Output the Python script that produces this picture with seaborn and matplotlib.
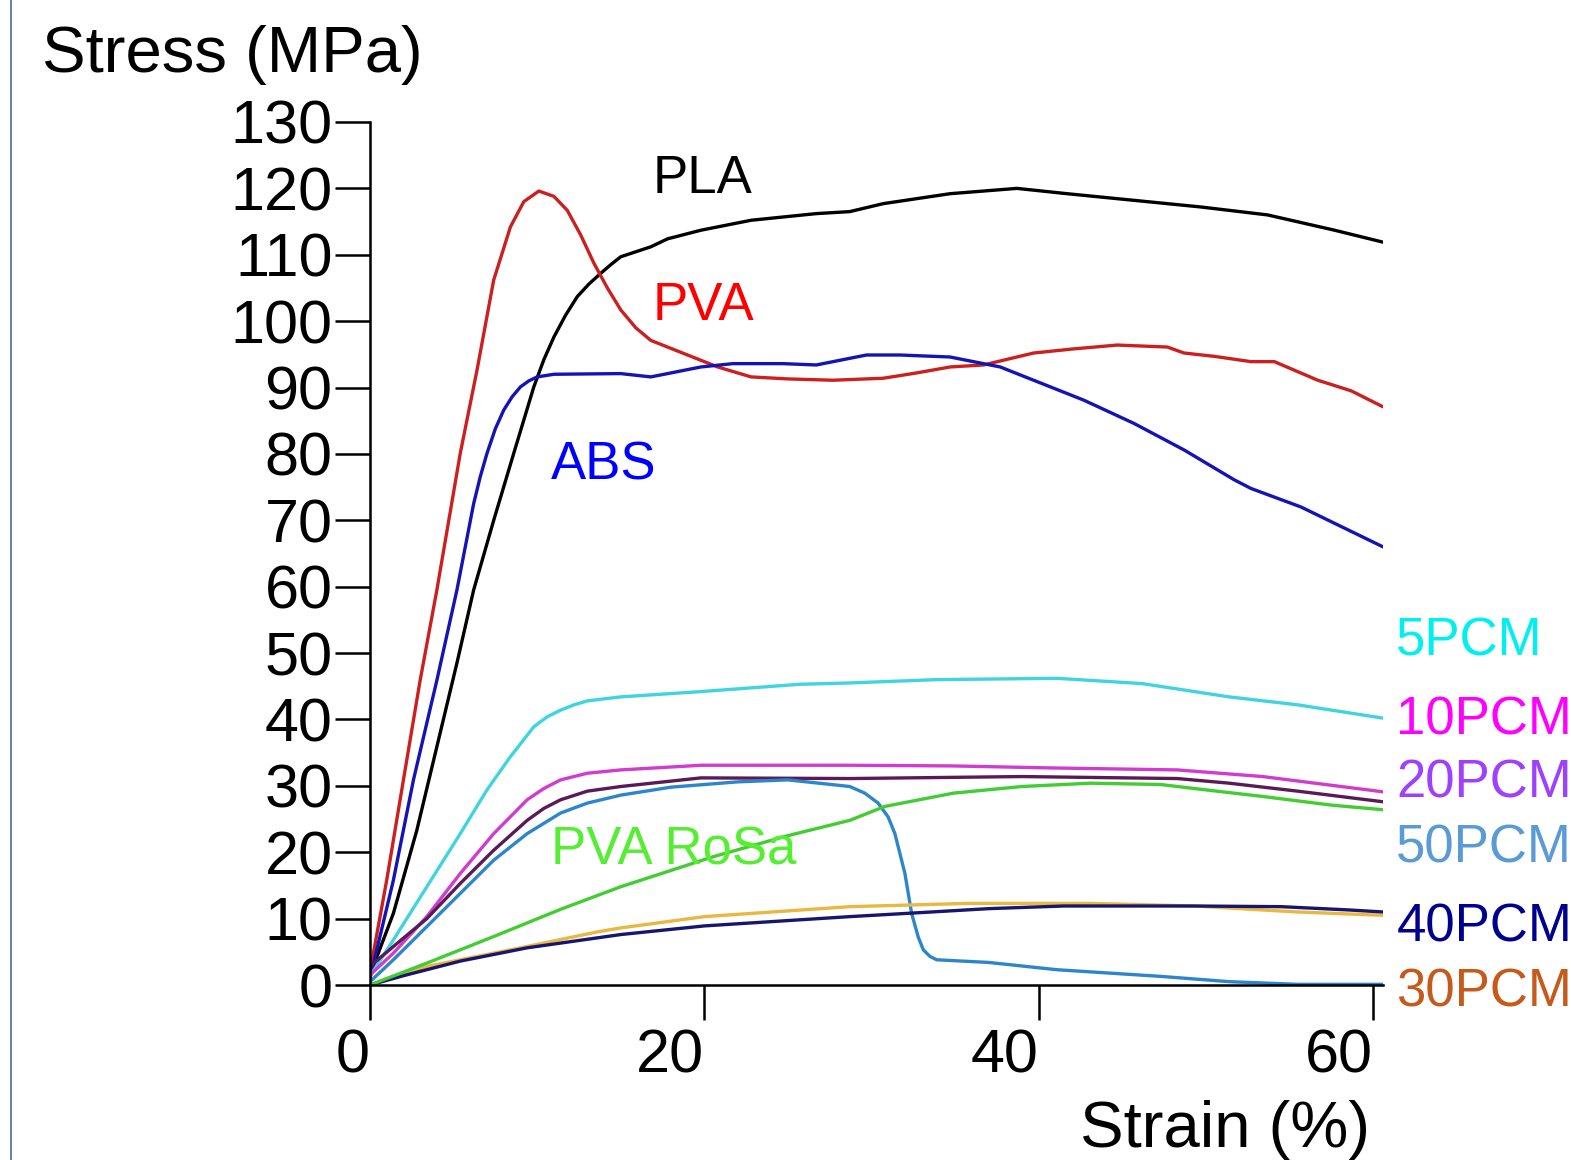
import pandas as pd
import matplotlib.pyplot as plt
import seaborn as sns
from matplotlib.lines import Line2D

sns.set_style('ticks')
plt.rcParams['font.family'] = ['Liberation Sans', 'DejaVu Sans']

# Curves: strain (%) vs stress (MPa)
pla_strain = [0, 1.4, 2.8, 4.0, 5.2, 6.2, 7.4, 8.6, 9.8, 10.4, 11.0, 11.7, 12.4, 13.1, 13.8, 14.4, 15.0,
              16.8, 17.8, 19.8, 22.8, 26.7, 28.7, 30.7, 34.7, 38.7, 41.7, 45.7, 49.7, 53.7, 57.7, 60.6]
pla_stress = [1.5, 10.8, 23.3, 35.9, 48.5, 59.5, 70.0, 80.1, 90.1, 94.2, 97.6, 100.9, 103.7, 105.6, 107.2, 108.5, 109.7,
              111.2, 112.4, 113.7, 115.2, 116.2, 116.5, 117.7, 119.2, 120.0, 119.2, 118.2, 117.2, 116.0, 113.7, 111.9]

pva_strain = [0, 1.0, 2.0, 3.0, 4.0, 5.4, 6.4, 7.4, 8.4, 9.2, 10.1, 11.0, 11.8, 12.6, 13.4, 14.2, 15.0, 15.9, 16.8,
              18.7, 20.8, 22.8, 25.0, 27.7, 30.7, 32.7, 34.7, 36.7, 39.7, 42.0, 44.7, 47.7, 48.7,
              50.5, 52.7, 54.1, 56.7, 58.7, 60.6]
pva_stress = [2.0, 15.8, 30.9, 45.9, 59.5, 80.1, 92.6, 106.2, 114.2, 118.0, 119.6, 118.8, 116.7, 113.0, 108.7, 105.0, 101.7, 99.0, 97.1,
              95.2, 93.1, 91.6, 91.3, 91.1, 91.4, 92.2, 93.1, 93.4, 95.2, 95.8, 96.4, 96.1, 95.2,
              94.7, 93.9, 93.9, 91.1, 89.5, 87.1]

abs_strain = [0, 1.4, 2.6, 4.0, 5.2, 6.2, 6.6, 7.0, 7.5, 8.0, 8.5, 9.0, 9.5, 10.0, 11.0, 15.0, 16.8, 19.8, 21.7,
              24.7, 26.7, 29.7, 31.7, 34.7, 35.7, 37.7, 39.7, 42.7, 45.7, 48.7, 51.7, 52.7, 55.7, 60.6]
abs_stress = [1.0, 15.8, 30.9, 45.9, 59.5, 72.5, 76.6, 80.1, 83.8, 86.6, 88.6, 90.1, 91.0, 91.6, 92.0, 92.1, 91.6, 93.1, 93.6,
              93.6, 93.4, 94.9, 94.9, 94.6, 94.1, 93.1, 91.1, 88.1, 84.6, 80.6, 76.1, 74.8, 72.0, 66.0]

pcm5_strain = [0, 1.4, 3.4, 5.4, 7.0, 8.4, 9.8, 10.6, 11.4, 12.2, 13.0, 15.0, 16.8, 19.8, 25.7, 28.7,
               33.9, 41.1, 46.2, 51.4, 55.5, 60.6]
pcm5_stress = [1.3, 6.8, 14.8, 22.8, 29.4, 34.4, 38.9, 40.4, 41.4, 42.2, 42.8, 43.4, 43.7, 44.2, 45.3, 45.5,
               46.0, 46.2, 45.4, 43.4, 42.2, 40.2]

pcm10_strain = [0, 1.4, 3.4, 5.4, 7.4, 9.4, 10.4, 11.4, 13.0, 15.0, 19.8, 28.7, 34.9, 40.7, 48.3, 53.4, 60.6]
pcm10_stress = [1.5, 4.8, 10.3, 16.8, 22.8, 27.9, 29.6, 30.9, 31.9, 32.4, 33.1, 33.1, 33.0, 32.7, 32.4, 31.4, 29.1]

pcm20_strain = [0, 1.4, 3.4, 5.4, 7.4, 9.4, 10.4, 11.4, 13.0, 15.0, 19.8, 28.7, 39.0, 48.3, 51.4, 55.5, 60.6]
pcm20_stress = [2.8, 5.8, 10.0, 15.3, 20.3, 24.8, 26.6, 27.9, 29.2, 29.9, 31.2, 31.1, 31.4, 31.1, 30.4, 29.2, 27.6]

pcm50_strain = [0, 1.4, 3.4, 5.4, 7.4, 9.4, 11.4, 13.0, 15.0, 18.0, 22.0, 25.0, 28.7, 29.6, 30.4, 31.0, 31.4,
                32.0, 32.4, 32.8, 33.1, 33.5, 33.9, 37.0, 41.1, 47.3, 51.4, 55.5, 60.6]
pcm50_stress = [0.5, 3.8, 8.8, 13.8, 18.8, 22.8, 25.9, 27.4, 28.6, 29.8, 30.6, 30.9, 29.9, 28.9, 27.4, 25.3, 22.8,
                16.8, 10.8, 7.2, 5.3, 4.3, 3.8, 3.4, 2.3, 1.3, 0.5, 0.1, 0.1]

pcm30_strain = [0, 3.4, 9.4, 13.6, 15.0, 20.0, 28.7, 35.9, 43.1, 49.3, 55.5, 60.6]
pcm30_stress = [0, 2.8, 5.8, 8.0, 8.6, 10.3, 11.8, 12.3, 12.3, 11.9, 11.0, 10.5]

pcm40_strain = [0, 2.0, 5.4, 9.4, 15.0, 20.0, 28.7, 32.9, 37.0, 41.5, 49.3, 54.5, 58.6, 60.6]
pcm40_stress = [0, 1.4, 3.6, 5.6, 7.6, 8.9, 10.3, 10.9, 11.5, 11.9, 11.9, 11.8, 11.3, 11.0]

rosa_strain = [0, 3.4, 7.4, 11.4, 15.0, 20.5, 25.0, 28.7, 30.8, 34.9, 39.0, 43.1, 47.3, 49.3, 53.4, 57.5, 60.6]
rosa_stress = [0, 3.3, 7.3, 11.4, 14.8, 19.3, 22.5, 24.8, 26.9, 28.9, 29.9, 30.4, 30.2, 29.6, 28.4, 27.1, 26.4]

curves = {
    'PLA': (pla_strain, pla_stress),
    'PVA': (pva_strain, pva_stress),
    'ABS': (abs_strain, abs_stress),
    '5PCM': (pcm5_strain, pcm5_stress),
    '10PCM': (pcm10_strain, pcm10_stress),
    '20PCM': (pcm20_strain, pcm20_stress),
    '50PCM': (pcm50_strain, pcm50_stress),
    '30PCM': (pcm30_strain, pcm30_stress),
    '40PCM': (pcm40_strain, pcm40_stress),
    'PVA RoSa': (rosa_strain, rosa_stress),
}

line_colors = {
    'PLA': '#000000', 'PVA': '#CC2020', 'ABS': '#1414B4', '5PCM': '#40D4E0',
    '10PCM': '#D03CD0', '20PCM': '#5A1A55', '50PCM': '#2C86CC', '30PCM': '#E8B840',
    '40PCM': '#16166E', 'PVA RoSa': '#44CC33',
}

# labels: text, x (strain), baseline y (stress), colour
label_texts = ['PLA', 'PVA', 'ABS', 'PVA RoSa', '5PCM', '10PCM', '20PCM', '50PCM', '40PCM', '30PCM']
label_x = [16.9, 16.9, 10.8, 10.8, 61.4, 61.4, 61.4, 61.4, 61.4, 61.4]
label_y = [119.3, 100.2, 76.1, 18.1, 49.7, 37.7, 28.2, 18.5, 6.5, -3.3]
label_colors = ['#000000', '#FF0000', '#0000FF', '#55EE33', '#00F0F0', '#FF00FF',
                '#A040FF', '#5B9BD5', '#000090', '#C55A1A']

rows = []
for name, (xs, ys) in curves.items():
    for x, y in zip(xs, ys):
        rows.append({'sample': name, 'strain': x, 'stress': y})
df = pd.DataFrame(rows)

fig = plt.figure(figsize=(15.71, 11.6), dpi=100)
ax = fig.add_axes([370 / 1571, 1 - 985 / 1160, (1383 - 370) / 1571, (985 - 122) / 1160])

sns.lineplot(data=df, x='strain', y='stress', hue='sample', palette=line_colors,
             estimator=None, sort=False, legend=False, linewidth=2.4, ax=ax)

ax.set_xlim(0, 60.6)
ax.set_ylim(0, 130)
ax.set_xticks([0, 20, 40, 60])
ax.set_yticks(range(0, 131, 10))
ax.set_xlabel('')
ax.set_ylabel('')
for side in ['top', 'right']:
    ax.spines[side].set_visible(False)
for side in ['left', 'bottom']:
    ax.spines[side].set_linewidth(1.8)
    ax.spines[side].set_color('black')
ax.tick_params(axis='both', direction='out', length=25, width=1.8, color='black',
               labelsize=44, labelcolor='black', bottom=True, left=True)
ax.tick_params(axis='y', pad=2)
ax.tick_params(axis='x', pad=6)
for lab in ax.get_xticklabels():
    lab.set_ha('right')

for txt, x, y, c in zip(label_texts, label_x, label_y, label_colors):
    ax.text(x, y, txt, color=c, fontsize=38, va='baseline', ha='left', clip_on=False)

fig.text(42 / 1571, 1 - 72 / 1160, 'Stress (MPa)', fontsize=47, color='black',
         va='baseline', ha='left')
fig.text(1370 / 1571, 1 - 1147 / 1160, 'Strain (%)', fontsize=47, color='black',
         va='baseline', ha='right')

# thin frame line on the left edge
fig.add_artist(Line2D([11 / 1571, 11 / 1571], [0, 1], transform=fig.transFigure,
                      color='#4A6A9A', linewidth=1.2))

plt.savefig('out.png', dpi=100)
